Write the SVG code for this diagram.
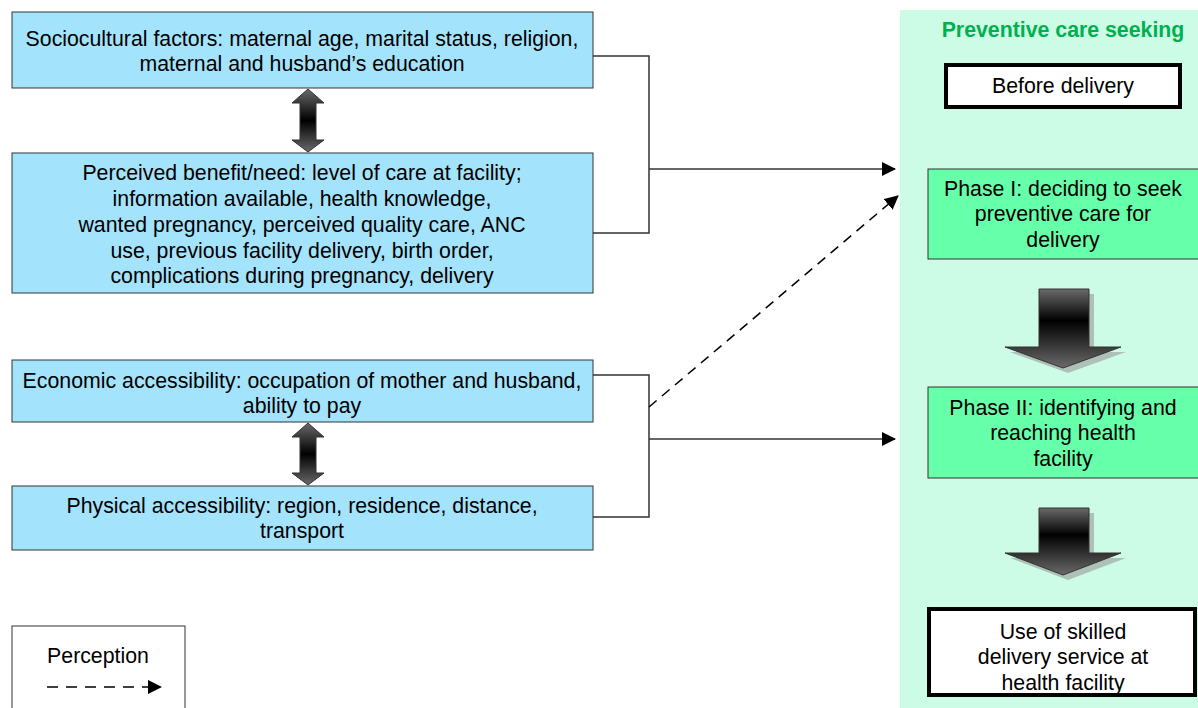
<svg xmlns="http://www.w3.org/2000/svg" width="1198" height="708" viewBox="0 0 1198 708">
<style>
text{font-family:"Liberation Sans",Arial,sans-serif;font-size:21.3px;fill:#000;text-anchor:middle}
.blue{fill:#A3E4FC;stroke:#333;stroke-width:1}
.phase{fill:#66FFAA;stroke:#333;stroke-width:1}
.thick{fill:#fff;stroke:#000;stroke-width:4}
.conn{fill:none;stroke:#333;stroke-width:1.5}
.title{font-weight:bold;fill:#00B050}
</style>
<defs>
<marker id="ah2" markerWidth="14" markerHeight="14" refX="13" refY="7" orient="auto" markerUnits="userSpaceOnUse"><path d="M0,0 L14,7 L0,14 z" fill="#000"/></marker>
<linearGradient id="gv" x1="0" y1="0" x2="0" y2="1"><stop offset="0" stop-color="#6a6a6a"/><stop offset="0.5" stop-color="#000"/><stop offset="1" stop-color="#6a6a6a"/></linearGradient>
<linearGradient id="gd" x1="0" y1="0" x2="0" y2="1"><stop offset="0" stop-color="#6a6a6a"/><stop offset="0.4" stop-color="#000"/><stop offset="1" stop-color="#6a6a6a"/></linearGradient>
</defs>
<rect x="900" y="10" width="298" height="698" fill="#CCFCE5"/>
<text class="title" x="1063" y="37">Preventive care seeking</text>

<g id="conn">
<polyline class="conn" points="593,56 649,56 649,233 593,233"/>
<line class="conn" x1="649" y1="169" x2="895" y2="169" marker-end="url(#ah2)"/>
<polyline class="conn" points="593,375 649,375 649,517 593,517"/>
<line class="conn" x1="649" y1="439" x2="895" y2="439" marker-end="url(#ah2)"/>
<line x1="649" y1="407" x2="898" y2="196" stroke="#000" stroke-width="1.5" stroke-dasharray="10,7" marker-end="url(#ah2)"/>
</g>

<g id="n1"><rect class="blue" x="12" y="12" width="581" height="76"/>
<text x="302" y="46">Sociocultural factors: maternal age, marital status, religion,</text>
<text x="302" y="71">maternal and husband’s education</text></g>

<g id="n2"><rect class="blue" x="12" y="153" width="581" height="140"/>
<text x="302" y="180">Perceived benefit/need: level of care at facility;</text>
<text x="302" y="206">information available, health knowledge,</text>
<text x="302" y="232">wanted pregnancy, perceived quality care, ANC</text>
<text x="302" y="258">use, previous facility delivery, birth order,</text>
<text x="302" y="283">complications during pregnancy, delivery</text></g>

<g id="n3"><rect class="blue" x="12" y="360" width="581" height="62"/>
<text x="302" y="388">Economic accessibility: occupation of mother and husband,</text>
<text x="302" y="413">ability to pay</text></g>

<g id="n4"><rect class="blue" x="12" y="486" width="581" height="64"/>
<text x="302" y="513">Physical accessibility: region, residence, distance,</text>
<text x="302" y="538">transport</text></g>

<g id="dbl1"><path d="M308,89 L324,103 L316,103 L316,140 L324,140 L308,152 L292,140 L300,140 L300,103 L292,103 Z" fill="url(#gv)" stroke="#333" stroke-width="1"/></g>
<g id="dbl2"><path d="M308,423 L324,437 L316,437 L316,473 L324,473 L308,485 L292,473 L300,473 L300,437 L292,437 Z" fill="url(#gv)" stroke="#333" stroke-width="1"/></g>

<g id="before"><rect class="thick" x="946" y="65" width="234" height="42"/>
<text x="1063" y="93">Before delivery</text></g>

<g id="phase1"><rect class="phase" x="928" y="169" width="272" height="90"/>
<text x="1063" y="196">Phase I: deciding to seek</text>
<text x="1063" y="221">preventive care for</text>
<text x="1063" y="247">delivery</text></g>

<g id="down1">
<path d="M1044,294 L1094,294 L1094,352 L1126,352 L1068,373 L1010,352 L1044,352 Z" fill="#999" opacity="0.6"/>
<path d="M1039,289 L1089,289 L1089,347 L1121,347 L1063,368 L1005,347 L1039,347 Z" fill="url(#gd)" stroke="#333" stroke-width="1"/></g>

<g id="phase2"><rect class="phase" x="928" y="387" width="272" height="91"/>
<text x="1063" y="415">Phase II: identifying and</text>
<text x="1063" y="440">reaching health</text>
<text x="1063" y="466">facility</text></g>

<g id="down2">
<path d="M1044,513 L1094,513 L1094,558 L1126,558 L1068,580 L1010,558 L1044,558 Z" fill="#999" opacity="0.6"/>
<path d="M1039,508 L1089,508 L1089,553 L1121,553 L1063,575 L1005,553 L1039,553 Z" fill="url(#gd)" stroke="#333" stroke-width="1"/></g>

<g id="use"><rect class="thick" x="929" y="609" width="266" height="86"/>
<text x="1063" y="639">Use of skilled</text>
<text x="1063" y="664">delivery service at</text>
<text x="1063" y="690">health facility</text></g>

<g id="legend"><rect x="12" y="626" width="173" height="90" fill="#fff" stroke="#333" stroke-width="1"/>
<text x="98" y="663">Perception</text>
<line x1="47" y1="687" x2="161" y2="687" stroke="#000" stroke-width="1.5" stroke-dasharray="11,8" marker-end="url(#ah2)"/></g>
</svg>
